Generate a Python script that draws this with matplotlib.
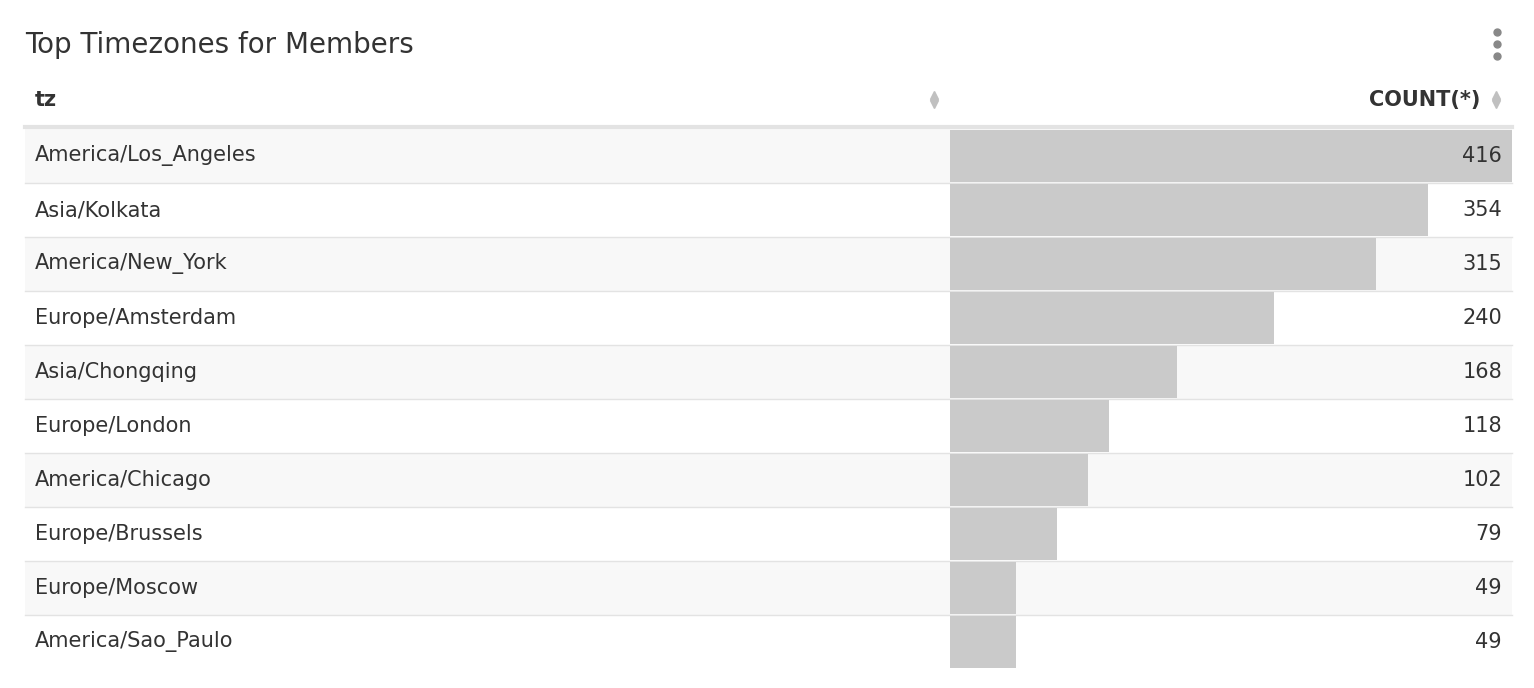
import matplotlib.pyplot as plt
from matplotlib.patches import Rectangle

timezones = ['America/Los_Angeles', 'Asia/Kolkata', 'America/New_York', 'Europe/Amsterdam',
             'Asia/Chongqing', 'Europe/London', 'America/Chicago', 'Europe/Brussels',
             'Europe/Moscow', 'America/Sao_Paulo']
counts = [416, 354, 315, 240, 168, 118, 102, 79, 49, 49]

W, H = 1534, 688
fig = plt.figure(figsize=(W / 100, H / 100), dpi=100)
ax = fig.add_axes([0, 0, 1, 1])
ax.set_xlim(0, W)
ax.set_ylim(H, 0)
ax.axis('off')

txt = '#333333'
ax.text(25, 45, 'Top Timezones for Members', fontsize=20, color=txt, va='center', ha='left')
for y in (32, 44, 56):
    ax.plot(1497, y, 'o', color='#888888', markersize=5)

ax.text(35, 100, 'tz', fontsize=15, color=txt, fontweight='bold', va='center')
ax.text(1480, 100, 'COUNT(*)', fontsize=15, color=txt, fontweight='bold', va='center', ha='right')
for x in (934, 1496):
    ax.plot(x, 95, marker='^', color='#c0c0c0', markersize=6)
    ax.plot(x, 104, marker='v', color='#c0c0c0', markersize=6)
ax.plot([25, 1512], [127, 127], color='#e3e3e3', lw=3)

top, rh = 129, 54
x0, x1 = 950, 1512
for i, (tz, c) in enumerate(zip(timezones, counts)):
    y = top + i * rh
    if i % 2 == 0:
        ax.add_patch(Rectangle((25, y), x1 - 25, rh, color='#f8f8f8', lw=0))
    ax.text(35, y + rh / 2, tz, fontsize=15, color=txt, va='center')
    if i < len(timezones) - 1:
        ax.plot([25, x1], [y + rh, y + rh], color='#e3e3e3', lw=1)

# bar column through its own scale
bax = fig.add_axes([x0 / W, 1 - (top + rh * len(counts)) / H, (x1 - x0) / W, rh * len(counts) / H])
bax.set_xlim(0, max(counts))
bax.set_ylim(len(counts), 0)
bax.axis('off')
bax.patch.set_alpha(0)
ypos = [i + 0.5 for i in range(len(counts))]
bax.barh(ypos, counts, height=0.98, color='#cacaca')
for yp, c in zip(ypos, counts):
    bax.text(max(counts) * (1 - 10 / (x1 - x0)), yp, str(c), fontsize=15, color=txt,
             va='center', ha='right')

fig.savefig('out.png', dpi=100)
